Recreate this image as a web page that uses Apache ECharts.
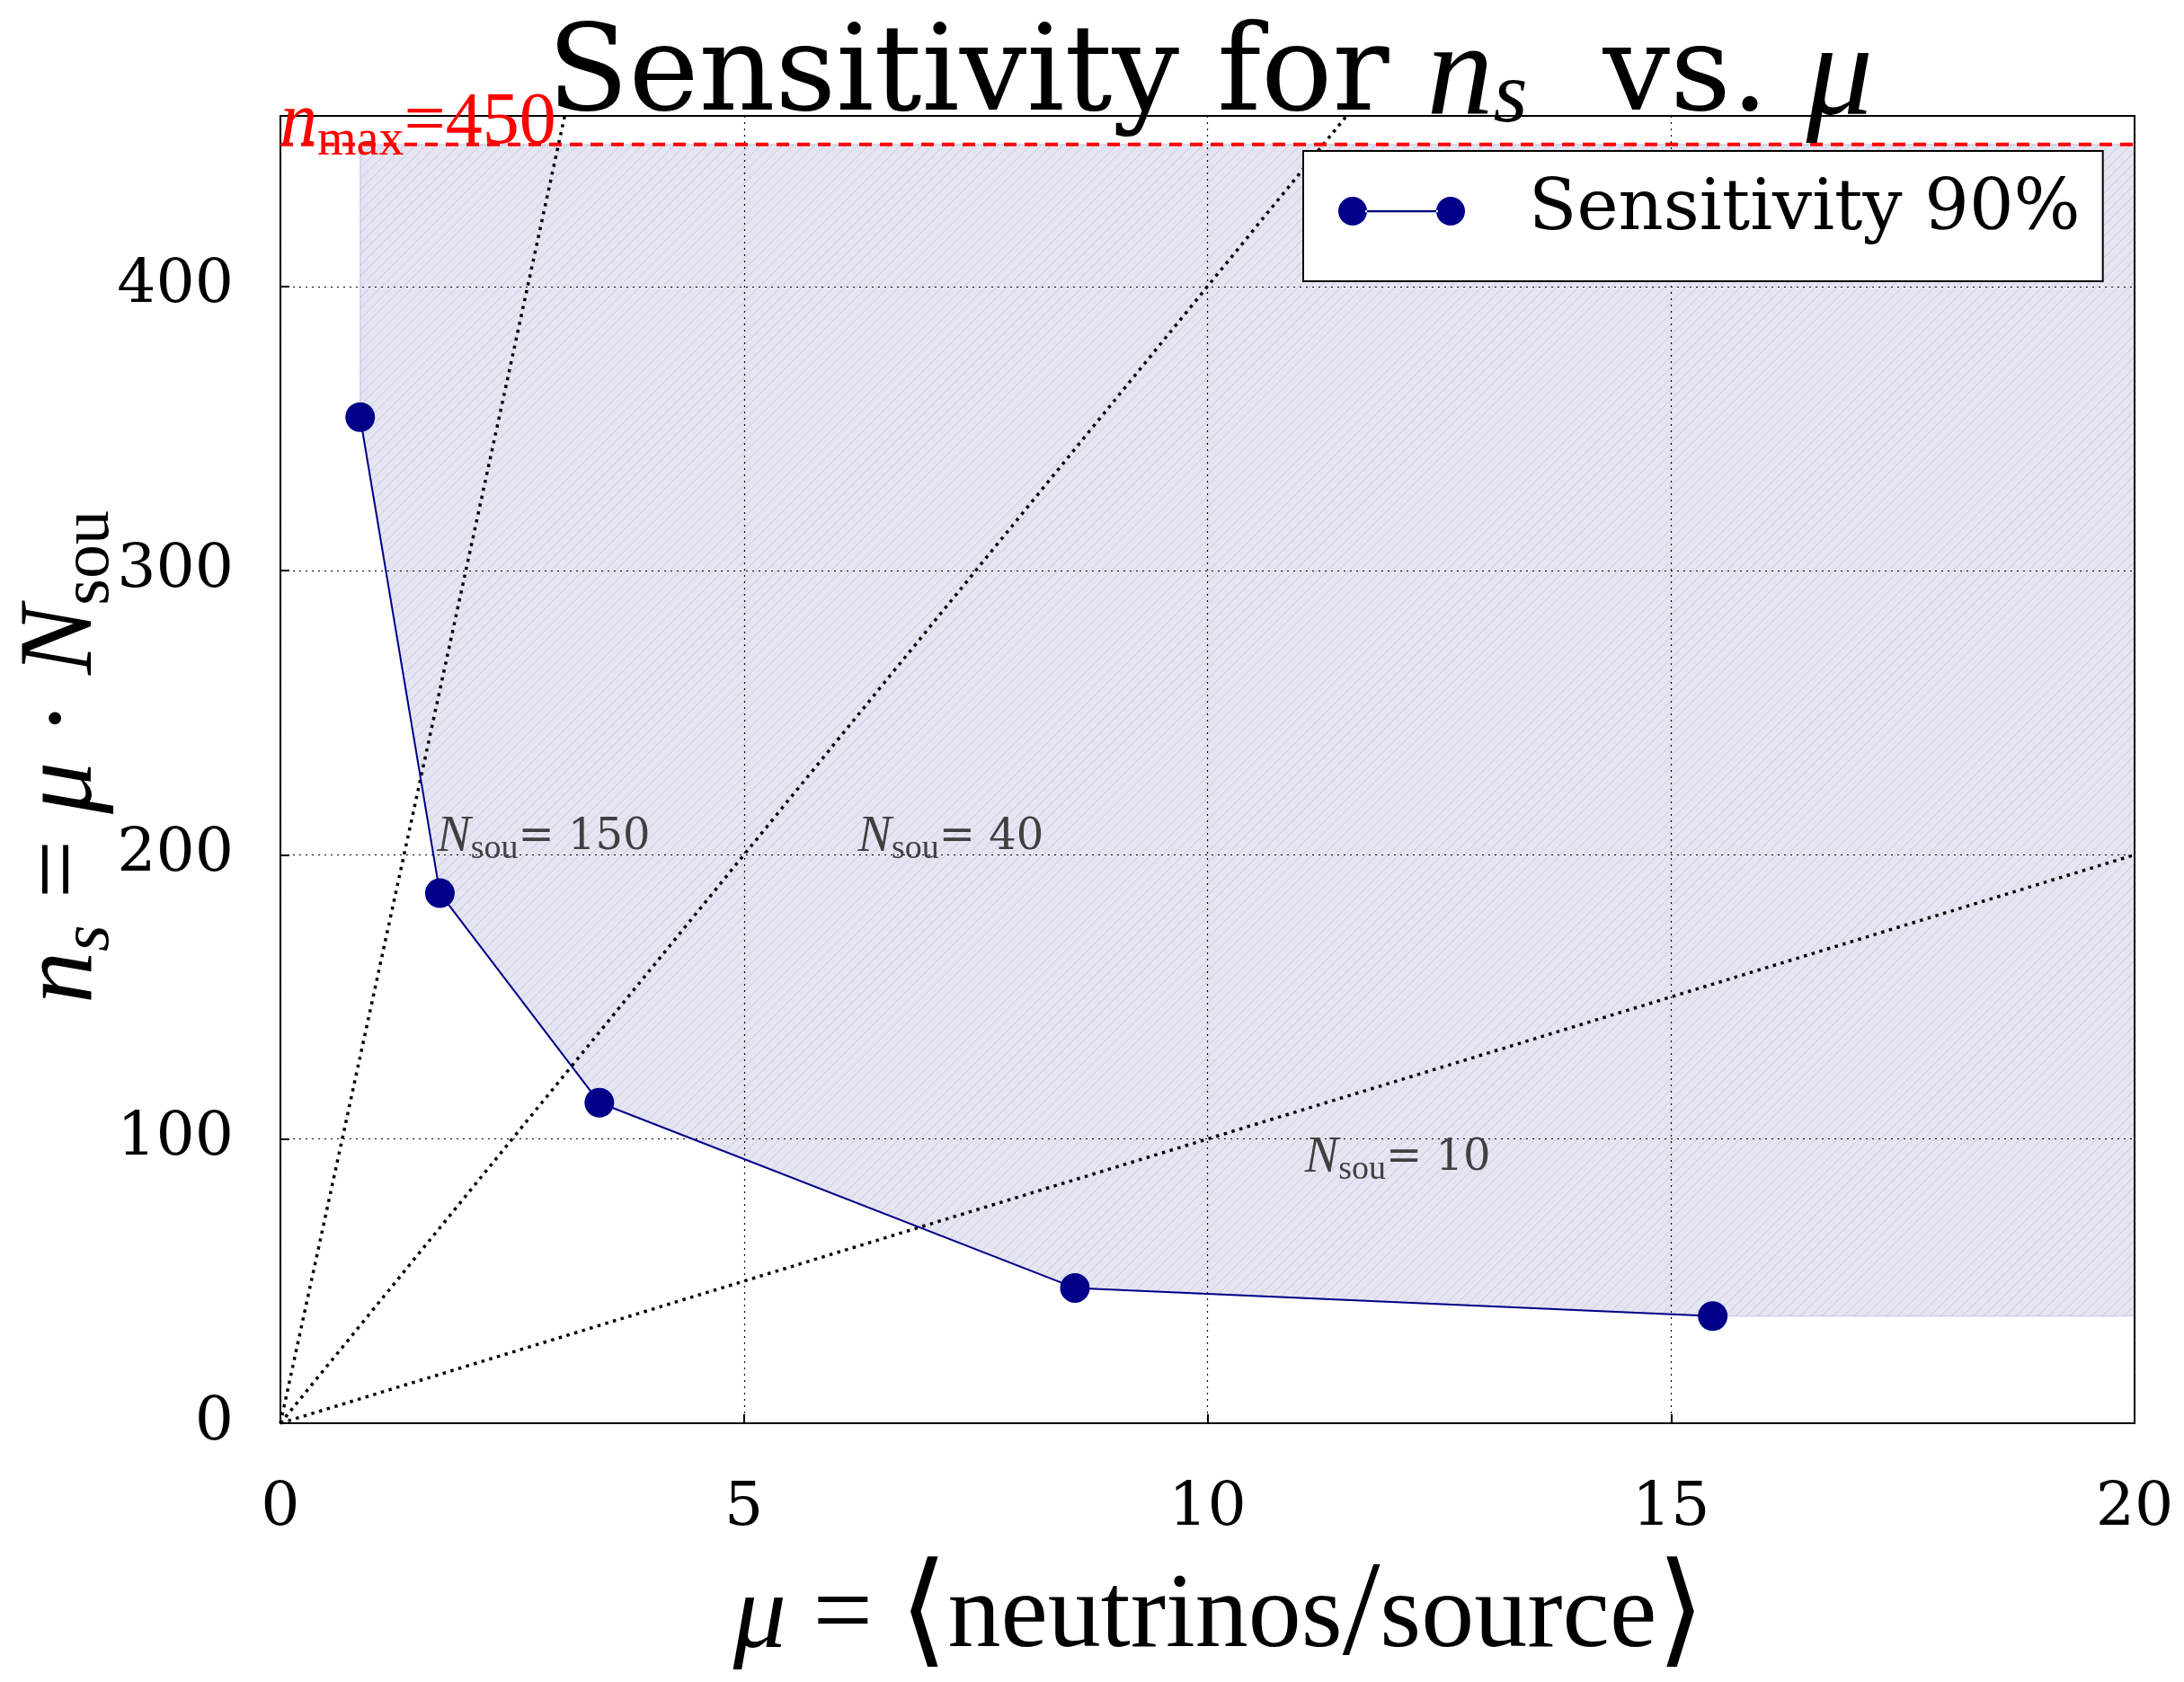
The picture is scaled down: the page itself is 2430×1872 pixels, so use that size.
<!DOCTYPE html>
<html><head><meta charset="utf-8">
<script src="https://cdn.jsdelivr.net/npm/echarts@6/dist/echarts.min.js"></script>
<style>html,body{margin:0;padding:0;background:#fff}#c{width:2430px;height:1872px}</style>
</head><body><div id="c"></div>
<script>
// ---- data ----
const muValues = [0.86, 1.72, 3.44, 8.57, 15.45];
const nsValues = [354, 186.5, 112.8, 47.6, 37.7];
const nSourceLines = [150, 40, 10];
const nSourceLabels = ['150', '40', '10'];
const nSourceLabelX = [1.69, 6.23, 11.05];
const nSourceLabelY = [202, 202, 89];
const nMax = 450;
const xRange = [0, 20];
const xStep = 5;
const yRange = [0, 460];
const yStep = 100;
const SERIES_NAME = 'Sensitivity 90%';

// ---- styling ----
const SERIF = 'DejaVu Serif';
const MATH = 'Liberation Serif';
const NAVY = '#000088';

const hatch = document.createElement('canvas');
hatch.width = 12; hatch.height = 12;
(function () {
  const c = hatch.getContext('2d');
  c.strokeStyle = 'rgba(0,0,128,0.12)';
  c.lineWidth = 1;
  c.beginPath();
  c.moveTo(-1, 13); c.lineTo(13, -1);
  c.moveTo(-1, 1); c.lineTo(1, -1);
  c.moveTo(11, 13); c.lineTo(13, 11);
  c.stroke();
})();

const LEGEND_ICON = 'path://M0,16A16,16 0 1,0 32,16A16,16 0 1,0 0,16Z M30,15L111,15L111,17.2L30,17.2Z M109,16A16,16 0 1,0 141,16A16,16 0 1,0 109,16Z';

const chart = echarts.init(document.getElementById('c'), null, {renderer: 'canvas'});

const refLineSeries = nSourceLines.map(function (n) {
  const xe = Math.min(xRange[1], yRange[1] / n);
  return {
    type: 'line', silent: true, symbol: 'none', z: 3,
    data: [[0, 0], [xe, n * xe]],
    lineStyle: {color: '#000', width: 3.5, type: [3.5, 5.5]}
  };
});

const option = {
  animation: false,
  backgroundColor: '#fff',
  title: {
    text: '{a|Sensitivity for }{m|n}{s|s}{a|  vs. }{m|μ}',
    left: 609, top: 18, padding: 0,
    textStyle: {
      fontWeight: 'normal',
      rich: {
        a: {fontFamily: SERIF, fontWeight: 'normal', fontSize: 132, lineHeight: 140, color: '#000'},
        m: {fontFamily: MATH, fontWeight: 'normal', fontStyle: 'italic', fontSize: 148, lineHeight: 140, color: '#000'},
        s: {fontFamily: MATH, fontWeight: 'normal', fontStyle: 'italic', fontSize: 98, lineHeight: 24, verticalAlign: 'bottom', color: '#000'}
      }
    }
  },
  legend: {
    data: [{name: SERIES_NAME, icon: LEGEND_ICON}],
    left: 1450, top: 168, orient: 'horizontal',
    itemWidth: 141, itemHeight: 32,
    padding: [19, 25, 30, 39],
    backgroundColor: '#fff', borderColor: '#000', borderWidth: 2, borderRadius: 0,
    selectedMode: false,
    itemStyle: {color: NAVY, borderWidth: 0},
    textStyle: {fontFamily: SERIF, fontSize: 78, lineHeight: 90, color: '#000', padding: [6, 0, 0, 66]}
  },
  grid: {
    left: 312, right: 55, top: 129, bottom: 288,
    show: true, borderColor: '#000', borderWidth: 2, backgroundColor: 'transparent',
    containLabel: false, outerBoundsMode: 'none'
  },
  xAxis: {
    type: 'value', min: xRange[0], max: xRange[1], interval: xStep,
    name: '{m|μ}{r| = }{b|⟨}{r|neutrinos}{sl|/}{r|source}{b|⟩}',
    nameLocation: 'middle', nameGap: 148, nameMoveOverlap: false,
    nameTextStyle: {
      padding: [0, 0, 0, 26],
      rich: {
        m: {fontFamily: MATH, fontStyle: 'italic', fontSize: 118, lineHeight: 139, color: '#000'},
        r: {fontFamily: MATH, fontSize: 118, lineHeight: 139, color: '#000'},
        sl: {fontFamily: MATH, fontSize: 150, lineHeight: 139, color: '#000'},
        b: {fontFamily: 'DejaVu Sans', fontSize: 138, lineHeight: 139, color: '#000'}
      }
    },
    axisLine: {show: true, onZero: false, lineStyle: {color: '#000', width: 2}},
    axisTick: {show: true, inside: true, length: 10, lineStyle: {color: '#000', width: 2}},
    axisLabel: {fontFamily: SERIF, fontSize: 68, color: '#000', margin: 61},
    splitLine: {show: true, lineStyle: {color: '#000', width: 1.2, type: [2, 5]}}
  },
  yAxis: {
    type: 'value', min: yRange[0], max: yRange[1], interval: yStep,
    name: '{m|n}{si|s}{r| = }{m|μ}{r| · }{m|N}{so|sou}',
    nameLocation: 'middle', nameRotate: 90, nameGap: 174, nameMoveOverlap: false,
    nameTextStyle: {
      padding: [0, 0, 0, 28],
      rich: {
        m: {fontFamily: MATH, fontStyle: 'italic', fontSize: 116, lineHeight: 136, color: '#000'},
        r: {fontFamily: MATH, fontSize: 116, lineHeight: 136, color: '#000'},
        si: {fontFamily: MATH, fontStyle: 'italic', fontSize: 76, lineHeight: 46, verticalAlign: 'bottom', color: '#000'},
        so: {fontFamily: MATH, fontSize: 76, lineHeight: 46, verticalAlign: 'bottom', color: '#000'}
      }
    },
    axisLine: {show: true, onZero: false, lineStyle: {color: '#000', width: 2}},
    axisTick: {show: true, inside: true, length: 10, lineStyle: {color: '#000', width: 2}},
    axisLabel: {fontFamily: SERIF, fontSize: 68, color: '#000', margin: 52, showMaxLabel: false, padding: [10, 0, 0, 0]},
    splitLine: {show: true, lineStyle: {color: '#000', width: 1.2, type: [2, 5]}}
  },
  series: [
    {
      type: 'custom', silent: true, z: 1, clip: true,
      data: [[muValues[0], nMax]],
      renderItem: function (params, api) {
        const last = muValues.length - 1;
        const pts = [api.coord([muValues[0], nMax])];
        for (let i = 0; i < muValues.length; i++) pts.push(api.coord([muValues[i], nsValues[i]]));
        pts.push(api.coord([xRange[1], nsValues[last]]));
        pts.push(api.coord([xRange[1], nMax]));
        return {
          type: 'group',
          children: [
            {type: 'polygon', shape: {points: pts}, style: {fill: 'rgba(0,0,128,0.1)', stroke: 'rgba(0,0,128,0.1)', lineWidth: 2}},
            {type: 'polygon', shape: {points: pts}, style: {fill: {image: hatch, repeat: 'repeat'}, stroke: null}}
          ]
        };
      }
    }
  ].concat(refLineSeries).concat([
    {
      type: 'line', silent: true, symbol: 'none', z: 4,
      data: [[xRange[0], nMax], [xRange[1], nMax]],
      lineStyle: {color: '#ff0000', width: 4, type: [14, 9]}
    },
    {
      name: SERIES_NAME, type: 'line', z: 6,
      data: muValues.map(function (m, i) { return [m, nsValues[i]]; }),
      symbol: 'circle', symbolSize: 33,
      itemStyle: {color: NAVY},
      lineStyle: {color: NAVY, width: 2}
    },
    {
      type: 'custom', silent: true, z: 7, clip: false,
      data: nSourceLabelX.map(function (x, i) { return [x, nSourceLabelY[i], i]; }),
      renderItem: function (params, api) {
        const p = api.coord([api.value(0), api.value(1)]);
        const i = api.value(2);
        return {
          type: 'text', x: p[0], y: p[1] + 19,
          style: {
            text: '{m|N}{s|sou}{r|= ' + nSourceLabels[i] + '}',
            align: 'left', verticalAlign: 'bottom', fill: '#404040',
            rich: {
              m: {fontFamily: MATH, fontStyle: 'italic', fontSize: 56, lineHeight: 64, fill: '#404040'},
              s: {fontFamily: MATH, fontSize: 38, lineHeight: 28, verticalAlign: 'bottom', fill: '#404040'},
              r: {fontFamily: SERIF, fontSize: 48, lineHeight: 64, fill: '#404040'}
            }
          }
        };
      }
    },
    {
      type: 'custom', silent: true, z: 7, clip: false,
      data: [[xRange[0], nMax]],
      renderItem: function (params, api) {
        const p = api.coord([api.value(0), api.value(1)]);
        return {
          type: 'text', x: p[0], y: p[1] + 25,
          style: {
            text: '{m|n}{s|max}{r|=450}',
            align: 'left', verticalAlign: 'bottom', fill: '#ff0000',
            rich: {
              m: {fontFamily: MATH, fontStyle: 'italic', fontSize: 82, lineHeight: 96, fill: '#ff0000'},
              s: {fontFamily: MATH, fontSize: 56, lineHeight: 40, verticalAlign: 'bottom', fill: '#ff0000'},
              r: {fontFamily: MATH, fontSize: 82, lineHeight: 96, fill: '#ff0000'}
            }
          }
        };
      }
    }
  ])
};
chart.setOption(option);
</script>
</body></html>
